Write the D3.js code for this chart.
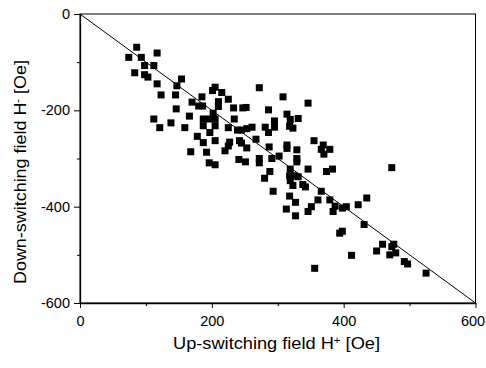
<!DOCTYPE html>
<html>
<head>
<meta charset="utf-8">
<script src="https://cdn.jsdelivr.net/npm/d3@7"></script>
<style>
body { margin: 0; background: #fff; }
text { font-family: "Liberation Sans", Arial, sans-serif; fill: #000; }
</style>
</head>
<body>
<div id="chart"></div>
<script>
// switching fields [Oe]
var upField = [86,74,93,117,98,112,83,98,103,117,
  147,154,123,145,146,112,121,138,159,166,
  170,180,186,185,201,205,215,225,272,308,
  210,210,233,247,252,286,202,187,196,205,
  234,314,319,331,295,187,205,197,225,239,
  245,253,261,281,286,295,318,323,187,205,
  227,225,242,245,253,267,287,314,314,329,
  192,220,241,251,272,272,291,302,329,329,
  196,205,288,319,318,325,331,319,280,168,
  178,346,355,369,366,379,370,346,374,383,
  473,323,338,342,366,435,361,379,293,318,
  327,313,327,351,346,387,384,398,404,422,
  431,394,398,459,476,473,450,470,479,412,
  492,497,356,525];
var downField = [-69,-90,-90,-81,-107,-107,-122,-126,-131,-145,
  -149,-135,-168,-168,-197,-218,-236,-226,-236,-212,
  -183,-191,-191,-172,-159,-152,-163,-177,-153,-172,
  -182,-192,-195,-195,-194,-199,-206,-218,-218,-218,
  -218,-208,-219,-217,-222,-232,-232,-246,-236,-241,
  -241,-238,-235,-235,-246,-235,-233,-237,-267,-263,
  -266,-274,-263,-268,-278,-260,-276,-272,-279,-282,
  -287,-284,-302,-307,-300,-309,-300,-295,-300,-307,
  -309,-313,-327,-322,-336,-336,-338,-346,-341,-286,
  -254,-185,-263,-272,-281,-281,-291,-322,-327,-322,
  -319,-356,-354,-359,-368,-382,-386,-386,-368,-378,
  -391,-405,-419,-400,-410,-399,-410,-403,-400,-396,
  -437,-455,-451,-478,-478,-483,-492,-500,-496,-501,
  -514,-519,-528,-538];

var xTicks = [0, 200, 400, 600];
var xMinor = [100, 300, 500];
var yTicks = [0, -200, -400, -600];
var yMinor = [-100, -300, -500];
var guideLine = [[0, 0], [600, -600]];

var svgWidth = 486;
var svgHeight = 368;
var margin = { top: 14, right: 10.5, bottom: 65, left: 80 };
var width = svgWidth - margin.left - margin.right;
var height = svgHeight - margin.top - margin.bottom;

var svg = d3.select("#chart")
  .append("svg")
  .attr("width", svgWidth)
  .attr("height", svgHeight);

var chartGroup = svg.append("g")
  .attr("transform", `translate(${margin.left}, ${margin.top})`);

var xScale = d3.scaleLinear().domain([0, 600]).range([0, width]);
var yScale = d3.scaleLinear().domain([0, -600]).range([0, height]);

// frame
chartGroup.append("rect")
  .attr("width", width)
  .attr("height", height)
  .attr("fill", "none")
  .attr("stroke", "#000")
  .attr("stroke-width", 1);

// minor ticks
chartGroup.append("g")
  .attr("transform", `translate(0, ${height})`)
  .call(d3.axisBottom(xScale).tickValues(xMinor).tickSize(3).tickSizeOuter(0).tickFormat(""))
  .call(g => g.select(".domain").remove());
chartGroup.append("g")
  .call(d3.axisLeft(yScale).tickValues(yMinor).tickSize(3).tickSizeOuter(0).tickFormat(""))
  .call(g => g.select(".domain").remove());

// major axes
var bottomAxis = d3.axisBottom(xScale).tickValues(xTicks).tickSize(5).tickSizeOuter(0)
  .tickPadding(7.5).tickFormat(d => String(d));
var leftAxis = d3.axisLeft(yScale).tickValues(yTicks).tickSize(6).tickSizeOuter(0)
  .tickPadding(4).tickFormat(d => String(d));

chartGroup.append("g")
  .attr("transform", `translate(0, ${height})`)
  .call(bottomAxis)
  .call(g => g.select(".domain").attr("stroke-width", 1.3))
  .selectAll("text")
  .attr("font-size", 14.5)
  .attr("font-family", "Liberation Sans, Arial, sans-serif")
  .attr("dx", d => d === 600 ? -3 : 0);   // keep the last label inside the window

chartGroup.append("g")
  .call(leftAxis)
  .call(g => g.select(".domain").attr("stroke-width", 1.3))
  .selectAll("text")
  .attr("font-size", 14.5)
  .attr("font-family", "Liberation Sans, Arial, sans-serif");

// y = -x guide
chartGroup.append("path")
  .datum(guideLine)
  .attr("fill", "none")
  .attr("stroke", "#000")
  .attr("stroke-width", 1)
  .attr("d", d3.line().x(d => xScale(d[0])).y(d => yScale(d[1])));

// points
chartGroup.selectAll("rect.pt")
  .data(upField)
  .enter()
  .append("rect")
  .attr("class", "pt")
  .attr("x", d => xScale(d) - 3.5)
  .attr("y", (d, i) => yScale(downField[i]) - 3.5)
  .attr("width", 7)
  .attr("height", 7)
  .attr("fill", "#000");

// axis titles (slightly wide lettering in the original)
var xTitle = svg.append("text")
  .attr("x", 173)
  .attr("y", 348.5)
  .attr("textLength", 207)
  .attr("lengthAdjust", "spacingAndGlyphs")
  .attr("font-size", 16);
xTitle.append("tspan").text("Up-switching field H");
xTitle.append("tspan").attr("baseline-shift", "super").attr("font-size", 10).text("+");
xTitle.append("tspan").text(" [Oe]");

var yTitle = svg.append("text")
  .attr("transform", "translate(25.5, 284) rotate(-90)")
  .attr("textLength", 224)
  .attr("lengthAdjust", "spacingAndGlyphs")
  .attr("font-size", 16);
yTitle.append("tspan").text("Down-switching field H");
yTitle.append("tspan").attr("baseline-shift", "super").attr("font-size", 10).text("-");
yTitle.append("tspan").text(" [Oe]");
</script>
</body>
</html>
